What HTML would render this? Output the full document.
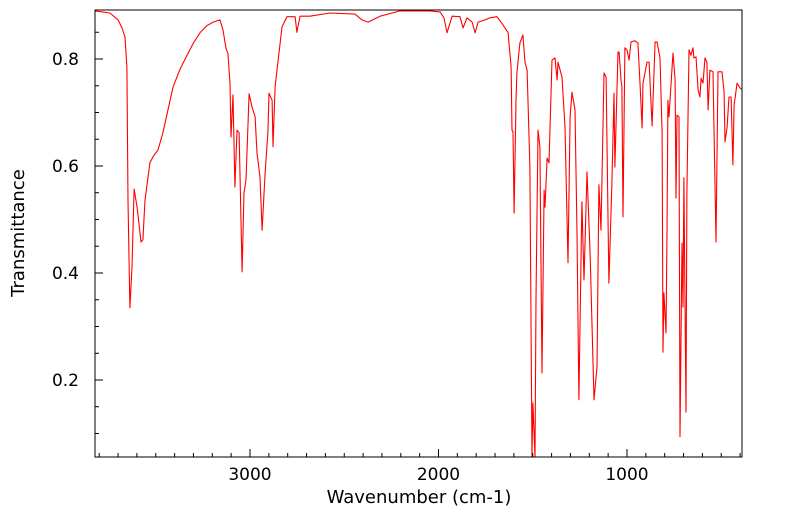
<!DOCTYPE html>
<html><head><meta charset="utf-8"><style>
html,body{margin:0;padding:0;background:#fff;}
svg{display:block;font-family:"DejaVu Sans","Liberation Sans",sans-serif;}
</style></head><body>
<svg id="chart" width="799" height="516" xmlns="http://www.w3.org/2000/svg"></svg>
<script>
const wavenumbers=[3822,3743,3700,3679,3663,3653,3647,3637,3626,3615,3599,3578,3568,3557,3531,3510,3488,3462,3435,3408,3370,3334,3300,3265,3230,3196,3159,3143,3127,3117,3106,3101,3090,3080,3069,3058,3042,3032,3021,3005,2989,2973,2963,2947,2936,2920,2905,2899,2883,2878,2867,2857,2830,2804,2761,2751,2735,2682,2576,2443,2406,2374,2310,2204,2045,1992,1971,1955,1928,1886,1870,1849,1822,1806,1790,1753,1727,1690,1658,1631,1615,1610,1605,1599,1589,1584,1568,1552,1541,1530,1515,1504,1499,1488,1483,1472,1462,1451,1440,1435,1424,1414,1398,1382,1371,1366,1345,1329,1313,1302,1292,1276,1265,1255,1239,1228,1212,1196,1175,1159,1149,1138,1122,1111,1096,1080,1069,1064,1048,1042,1032,1027,1021,1011,1000,989,979,958,942,931,920,915,894,883,867,851,841,825,814,809,804,793,788,783,777,761,756,745,740,735,724,719,708,703,698,687,682,671,661,650,645,634,623,613,607,597,586,576,570,560,544,528,517,496,485,480,469,459,448,438,432,416,401,385];
const transmittance=[0.890,0.886,0.873,0.858,0.841,0.785,0.536,0.335,0.411,0.557,0.523,0.458,0.462,0.536,0.606,0.620,0.630,0.662,0.705,0.748,0.782,0.807,0.830,0.849,0.862,0.869,0.873,0.854,0.819,0.811,0.755,0.654,0.733,0.561,0.667,0.662,0.402,0.550,0.574,0.735,0.710,0.692,0.624,0.579,0.480,0.587,0.662,0.736,0.723,0.636,0.748,0.779,0.860,0.879,0.879,0.850,0.880,0.880,0.886,0.884,0.873,0.869,0.880,0.890,0.890,0.888,0.877,0.849,0.880,0.879,0.858,0.877,0.869,0.849,0.869,0.873,0.877,0.879,0.864,0.849,0.785,0.667,0.664,0.512,0.723,0.774,0.830,0.845,0.794,0.779,0.598,0.056,0.157,0.056,0.350,0.667,0.636,0.213,0.555,0.523,0.615,0.606,0.798,0.802,0.761,0.794,0.766,0.673,0.419,0.692,0.738,0.705,0.475,0.163,0.533,0.387,0.589,0.437,0.163,0.224,0.565,0.480,0.774,0.766,0.381,0.568,0.736,0.598,0.813,0.813,0.761,0.748,0.505,0.821,0.817,0.798,0.832,0.834,0.830,0.755,0.671,0.755,0.794,0.794,0.675,0.832,0.832,0.802,0.662,0.252,0.363,0.288,0.475,0.723,0.692,0.785,0.811,0.761,0.540,0.695,0.692,0.094,0.456,0.336,0.578,0.140,0.550,0.817,0.807,0.821,0.802,0.804,0.742,0.729,0.764,0.755,0.802,0.794,0.705,0.779,0.776,0.458,0.776,0.776,0.738,0.645,0.673,0.729,0.729,0.602,0.714,0.755,0.746,0.742];
const xMajorTicks=[3000,2000,1000];
const xMajorLabels=["3000","2000","1000"];
const yMajorTicks=[0.2,0.4,0.6,0.8];
const yMajorLabels=["0.2","0.4","0.6","0.8"];

const L=95,R=742,T=10,B=457;
function xs(w){return 250+(3000-w)*0.1885;}
function ys(v){return 59+(0.8-v)*535;}
const NS="http://www.w3.org/2000/svg";
const svg=document.getElementById('chart');
function mk(tag,attrs,parent){const e=document.createElementNS(NS,tag);for(const k in attrs)e.setAttribute(k,attrs[k]);(parent||svg).appendChild(e);return e;}

const defs=mk('defs',{});
const cp=mk('clipPath',{id:'plotclip'},defs);
mk('rect',{x:L,y:T,width:R-L,height:B-T},cp);

let d='';
for(let i=0;i<wavenumbers.length;i++){d+=(i?'L':'M')+xs(wavenumbers[i]).toFixed(1)+' '+ys(transmittance[i]).toFixed(1);}
const line=mk('path',{d:d,fill:'none',stroke:'#ff0000','stroke-width':1.1,'stroke-linejoin':'round','clip-path':'url(#plotclip)'});



const frame=mk('rect',{x:L,y:T,width:R-L,height:B-T,fill:'none',stroke:'#000','stroke-width':1});



const xAxis=mk('g',{});


for(let w=3800;w>=400;w-=100){
  const x=xs(w);if(x<L||x>R)continue;
  const major=w%1000===0;
  const t=mk('line',{x1:x,x2:x,y1:B,y2:B-(major?8:4),stroke:'#000','stroke-width':1},xAxis);
  
  
}
xMajorTicks.forEach((w,i)=>{
  const t=mk('text',{x:xs(w),y:480,'text-anchor':'middle','font-size':17,fill:'#000'},xAxis);
  t.textContent=xMajorLabels[i];
  
  
});
const yAxis=mk('g',{});


for(let k=2;k<=17;k++){
  const v=k*0.05;const y=ys(v);if(y<T||y>B)continue;
  const major=k%4===0;
  const t=mk('line',{x1:L,x2:L+(major?8:4),y1:y,y2:y,stroke:'#000','stroke-width':1},yAxis);
  
  
}
yMajorTicks.forEach((v,i)=>{
  const t=mk('text',{x:79,y:ys(v)+6,'text-anchor':'end','font-size':17,fill:'#000'},yAxis);
  t.textContent=yMajorLabels[i];
  
  
});
const xt=mk('text',{x:419,y:503,'text-anchor':'middle','font-size':18,fill:'#000'});
xt.textContent='Wavenumber (cm-1)';


const yt=mk('text',{x:0,y:0,'text-anchor':'middle','font-size':18,fill:'#000',transform:'translate(24,233) rotate(-90)'});
yt.textContent='Transmittance';


</script>
</body></html>
